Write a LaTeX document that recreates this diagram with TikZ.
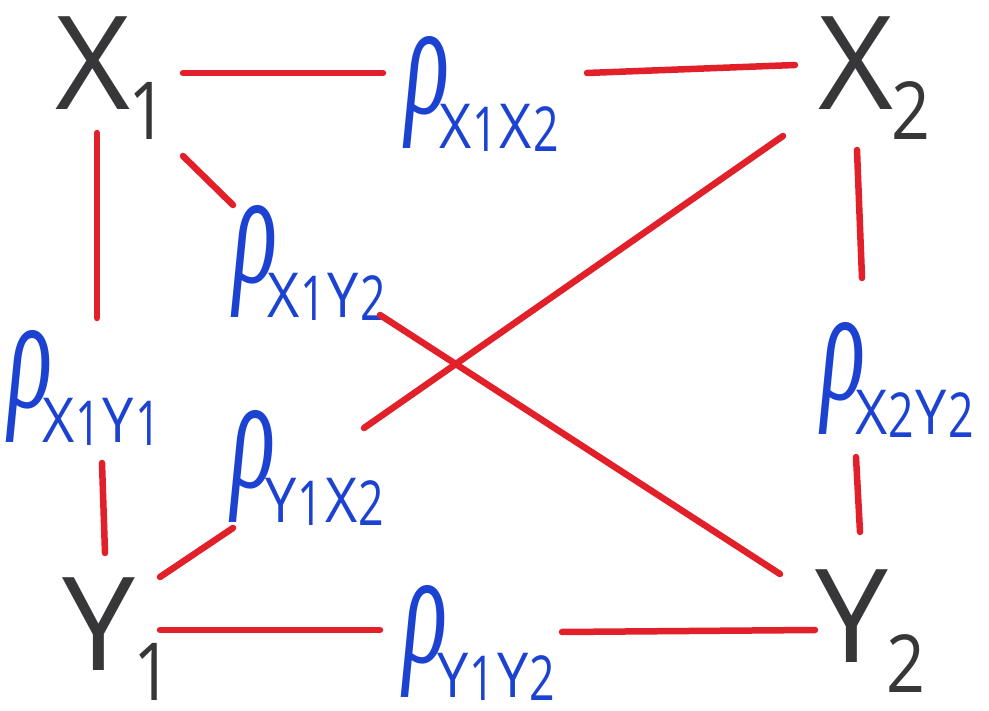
\documentclass[tikz,border=0pt]{standalone}
\usepackage{fontspec}
\usepackage{graphicx}
\setsansfont{Open Sans}
\newfontfamily\grk{Liberation Serif}
\definecolor{penred}{RGB}{226,32,42}
\definecolor{penblue}{RGB}{28,66,210}
\definecolor{pengray}{RGB}{55,55,58}
\tikzset{
  redline/.style={draw=penred,line width=6.5pt,line cap=round},
  vert/.style={text=pengray,inner sep=0pt,font=\sffamily,anchor=north west},
  lab/.style={text=penblue,inner sep=0pt,anchor=north west}
}
\newsavebox\rhobox
\newcommand\vname[2]{\fontsize{130}{130}\selectfont #1\kern-2pt\raisebox{-30pt}{\fontsize{80}{80}\selectfont\scalebox{0.85}[1]{#2}}}
\newcommand\sdig[1]{\raisebox{-3pt}{\scalebox{0.72}[1]{#1}}}
\newcommand\rl[4]{\sbox\rhobox{\resizebox*{44pt}{112pt}{\grk\itshape ρ}}\usebox\rhobox\kern-10pt\raisebox{-\dp\rhobox}{\sffamily\fontsize{62}{62}\selectfont\scalebox{0.9}[1]{#1}\kern1pt\sdig{#2}\kern2pt\scalebox{0.9}[1]{#3}\kern1pt\sdig{#4}}}
\begin{document}
\begin{tikzpicture}[x=1pt,y=-1pt]
\useasboundingbox[fill=white] (0,0) rectangle (989,711);
% vertices
\node[vert] (X1) at (55,17) {\vname{X}{1}};
\node[vert] (X2) at (818,17) {\vname{X}{2}};
\node[vert] (Y1) at (62,577) {\vname{Y}{1}};
\node[vert] (Y2) at (815,569) {\vname{Y}{2}};
% labels
\node[lab] (L12) at (405,36) {\rl{X}{1}{X}{2}};
\node[lab] (L11) at (8,330) {\rl{X}{1}{Y}{1}};
\node[lab] (L22) at (821,322) {\rl{X}{2}{Y}{2}};
\node[lab] (LY) at (403,585) {\rl{Y}{1}{Y}{2}};
\node[lab] (LXY) at (233,205) {\rl{X}{1}{Y}{2}};
\node[lab] (LYX) at (231,410) {\rl{Y}{1}{X}{2}};
% endpoints
\coordinate (a1) at (183,73); \coordinate (a2) at (383,73);
\coordinate (a3) at (587,73); \coordinate (a4) at (795,65);
\coordinate (b1) at (97,133); \coordinate (b2) at (97,318);
\coordinate (b3) at (102,463); \coordinate (b4) at (105,553);
\coordinate (c1) at (857,150); \coordinate (c2) at (862,278);
\coordinate (c3) at (856,457); \coordinate (c4) at (860,532);
\coordinate (d1) at (160,630); \coordinate (d2) at (380,630);
\coordinate (d3) at (562,632); \coordinate (d4) at (815,630);
\coordinate (e1) at (183,156); \coordinate (e2) at (233,205);
\coordinate (e3) at (380,315); \coordinate (e4) at (780,574);
\coordinate (f1) at (160,577); \coordinate (f2) at (233,528);
\coordinate (f3) at (364,428); \coordinate (f4) at (783,136);
\draw[redline] (a1) -- (a2);
\draw[redline] (a3) -- (a4);
\draw[redline] (b1) -- (b2);
\draw[redline] (b3) -- (b4);
\draw[redline] (c1) -- (c2);
\draw[redline] (c3) -- (c4);
\draw[redline] (d1) -- (d2);
\draw[redline] (d3) -- (d4);
\draw[redline] (e1) -- (e2);
\draw[redline] (e3) -- (e4);
\draw[redline] (f1) -- (f2);
\draw[redline] (f3) -- (f4);
\end{tikzpicture}
\end{document}
